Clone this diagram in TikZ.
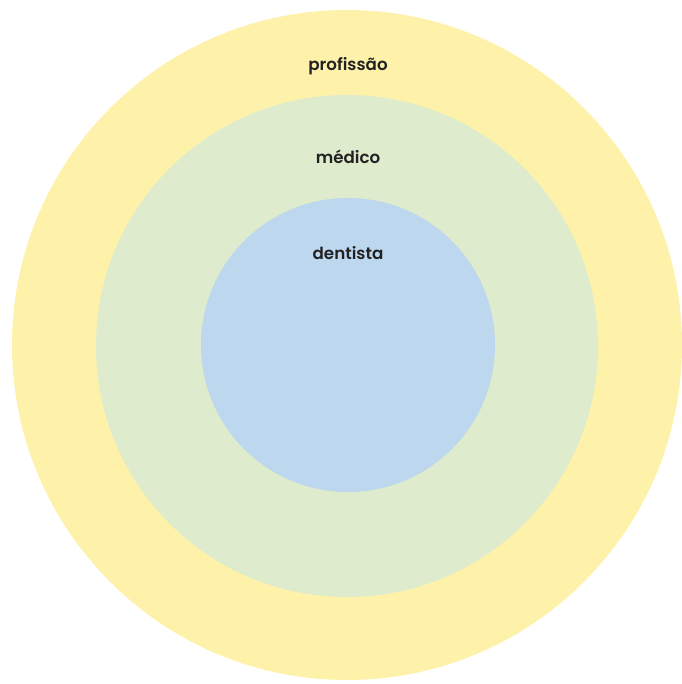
\documentclass[tikz,border=0pt]{standalone}
\usepackage{fontspec}
\setmainfont{Poppins}[BoldFont={* SemiBold}]
\definecolor{cyellow}{HTML}{FEF2AA}
\definecolor{cgreen}{HTML}{DEEBCD}
\definecolor{cblue}{HTML}{BDD7EE}
\definecolor{ctext}{HTML}{222222}
\begin{document}
\begin{tikzpicture}[x=1pt,y=-1pt,
  ring/.style={circle,inner sep=0pt,outer sep=0pt,draw=none},
  lbl/.style={text=ctext,font=\fontsize{16.7}{20}\selectfont\bfseries}]
\useasboundingbox (0,0) rectangle (681,684);
\node[ring,fill=cyellow,minimum size=670pt] (outer) at (347,345) {};
\node[ring,fill=cgreen,minimum size=502pt] (middle) at (347,346) {};
\node[ring,fill=cblue,minimum size=294pt] (inner) at (348,345) {};
\node[lbl] (tprof) at (348,66) {profissão};
\node[lbl] (tmed) at (348,157) {médico};
\node[lbl] (tdent) at (348,253) {dentista};
\end{tikzpicture}
\end{document}
